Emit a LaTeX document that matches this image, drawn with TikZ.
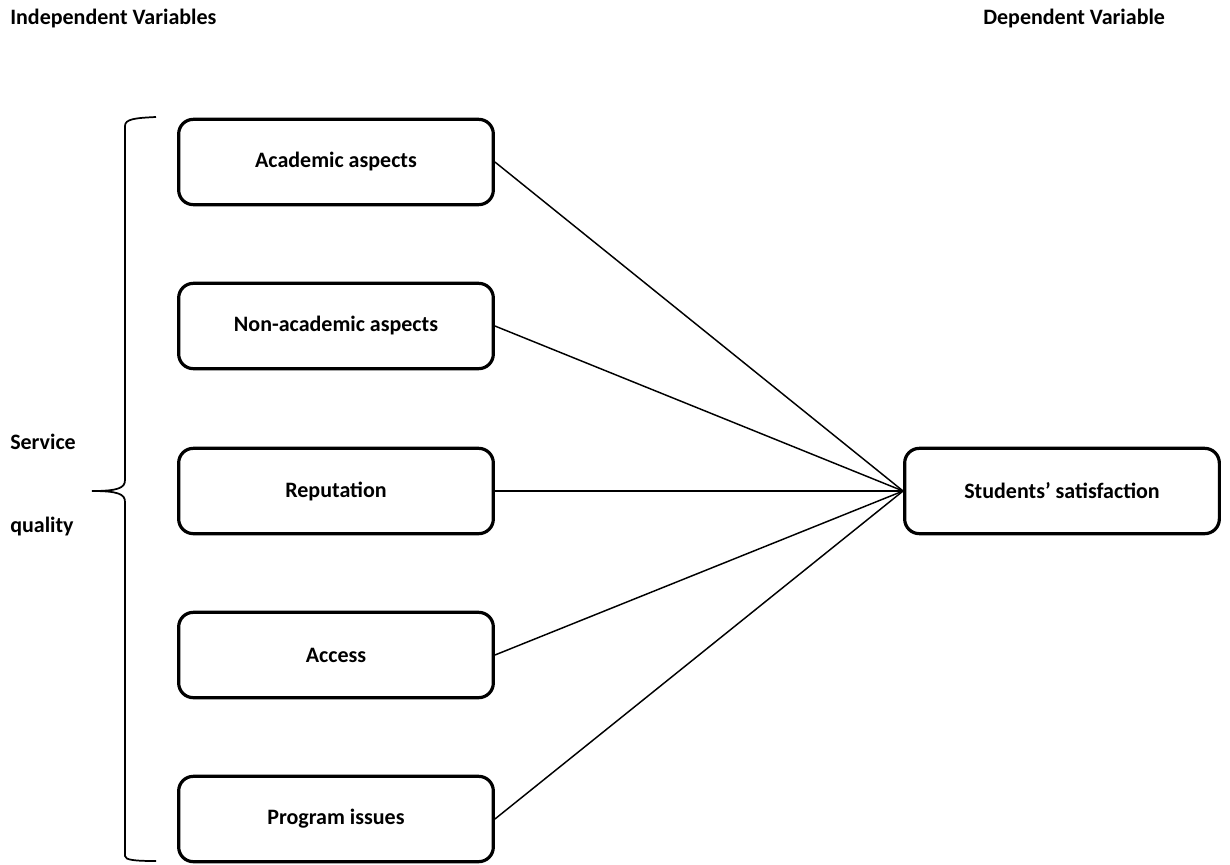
\documentclass[tikz,border=0pt]{standalone}
\usepackage{fontspec}
\setmainfont{Carlito}
\usetikzlibrary{positioning}

\begin{document}
\begin{tikzpicture}[x=0.75pt,y=-0.75pt,
        every node/.style={font=\bfseries\fontsize{16.5}{19}\selectfont,align=center},
        factor/.style={shape=rectangle,draw,line width=2.4pt,rounded corners=11pt,minimum width=236pt,minimum height=64pt},
        title/.style={anchor=west,inner sep=0},
        every edge/.style={draw=black,line width=1.1pt},
        ]
\useasboundingbox (0,0) rectangle (1230,864);

% headings
\node [title] (indep) at (10,19) {Independent Variables};
\node [title] (dep) at (983,19) {Dependent Variable};

% independent variables
\node [factor] (A1) at (336,162) {Academic aspects};
\node [factor] (A2) at (336,326) {Non-academic aspects};
\node [factor] (A3) at (336,491) {Reputation};
\node [factor] (A4) at (336,655) {Access};
\node [factor] (A5) at (336,819) {Program issues};

% dependent variable
\node [factor] (S) at (1062,491) {Students’ satisfaction};

% brace
\node [title] (sq1) at (10,442) {Service};
\node [title] (sq2) at (10,527) {quality};
\coordinate (top) at (156,117);
\coordinate (tip) at (92,491);
\coordinate (bot) at (156,861);
\draw[line width=1.3pt] (top) .. controls (135,118) and (125,119) .. (125,126)
    -- (125,480) .. controls (125,488) and (118,491) .. (tip)
    .. controls (118,491) and (125,494) .. (125,502)
    -- (125,856) .. controls (125,860) and (135,861) .. (bot);

    \path (A1.east) edge (S.west);
    \path (A2.east) edge (S.west);
    \path (A3.east) edge (S.west);
    \path (A4.east) edge (S.west);
    \path (A5.east) edge (S.west);

\end{tikzpicture}
\end{document}
